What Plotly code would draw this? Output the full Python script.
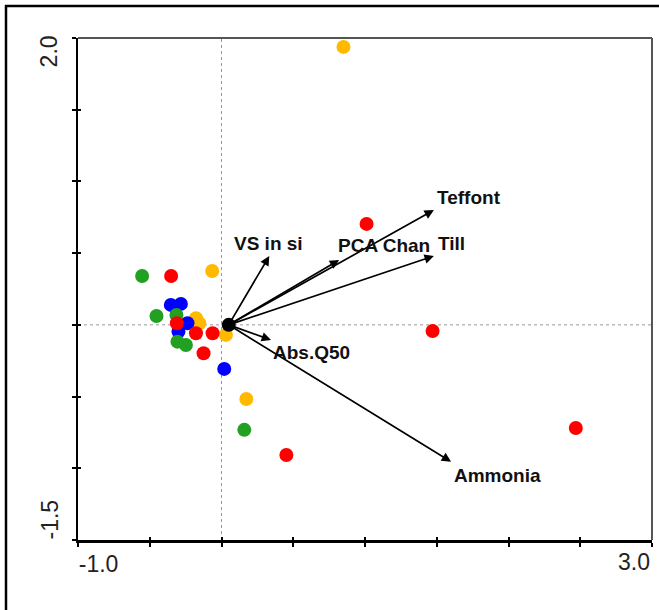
import plotly.graph_objects as go

# ---- sample scores (axis 1, axis 2) by group ----
red_x = [-0.351, 1.011, 1.471, 2.469, 0.452, -0.311, -0.178, -0.062, -0.125]
red_y = [0.341, 0.704, -0.043, -0.719, -0.907, 0.011, -0.059, -0.059, -0.198]

orange_x = [0.850, -0.065, 0.173, -0.178, -0.155, 0.031]
orange_y = [1.938, 0.376, -0.517, 0.046, 0.011, -0.070]

blue_x = [-0.353, -0.283, -0.237, -0.300, 0.019]
blue_y = [0.139, 0.146, 0.011, -0.047, -0.307]

green_x = [-0.553, -0.453, -0.314, -0.307, -0.248, 0.159]
green_y = [0.341, 0.062, 0.069, -0.117, -0.140, -0.732]

# ---- environmental variable arrows ----
var_names = ["Teffont", "Till", "PCA Chan", "VS in si", "Abs.Q50", "Ammonia"]
var_x = [1.48, 1.48, 0.82, 0.333, 0.345, 1.60]
var_y = [0.80, 0.48, 0.452, 0.480, -0.105, -0.954]
origin_x = [0.05]
origin_y = [0.0]

# ---- axis ticks ----
x_ticks = [-1.0, -0.5, 0.0, 0.5, 1.0, 1.5, 2.0, 2.5, 3.0]
y_ticks = [-1.5, -1.0, -0.5, 0.0, 0.5, 1.0, 1.5, 2.0]
x_first_label, x_last_label = "-1.0", "3.0"
y_first_label, y_last_label = "-1.5", "2.0"

# label pixel offsets (styling)
label_shift = {
    "Teffont": (1, 13), "Till": (2, 13), "PCA Chan": (-3, 15),
    "VS in si": (-37, 13), "Abs.Q50": (0, -13), "Ammonia": (1, -14),
}

FONT = "Arial, Liberation Sans, sans-serif"
W, H = 659, 610
ML, MR, MT, MB = 78, 7, 38, 70
PW, PH = W - ML - MR, H - MT - MB

fig = go.Figure()
groups = [
    (orange_x, orange_y, "#FFBA00"),
    (blue_x, blue_y, "#0000FF"),
    (green_x, green_y, "#22A022"),
    (red_x, red_y, "#FF0000"),
]
for gx, gy, col in groups:
    fig.add_trace(go.Scatter(x=gx, y=gy, mode="markers",
                             marker=dict(size=14, color=col, line=dict(width=0)),
                             hoverinfo="skip"))

fig.add_trace(go.Scatter(x=origin_x, y=origin_y, mode="markers", xaxis="x2", yaxis="y2",
                         marker=dict(size=14, color="black"), hoverinfo="skip"))

# arrows and labels
for name, vx, vy in zip(var_names, var_x, var_y):
    fig.add_annotation(x=vx, y=vy, ax=origin_x[0], ay=origin_y[0],
                       xref="x", yref="y", axref="x", ayref="y",
                       showarrow=True, arrowhead=2, arrowsize=1.1, arrowwidth=1.7,
                       arrowcolor="black", standoff=0, startstandoff=0, text="")
    dx, dy = label_shift[name]
    fig.add_annotation(x=vx, y=vy, xref="x", yref="y", text="<b>%s</b>" % name,
                       showarrow=False, xanchor="left", yanchor="middle",
                       xshift=dx, yshift=dy,
                       font=dict(family=FONT, size=19, color="#111"))

def px_to_paper_x(px):
    return (px - ML) / PW

def px_to_paper_y(py):
    return (H - MB - py) / PH

shapes = [
    # dotted zero lines
    dict(type="line", xref="x", yref="paper", x0=0, x1=0, y0=0, y1=1,
         line=dict(color="#9a9a9a", width=1, dash="dot"), layer="below"),
    dict(type="line", xref="paper", yref="y", x0=0, x1=1, y0=0, y1=0,
         line=dict(color="#9a9a9a", width=1, dash="dot"), layer="below"),
    # top & right plot border (grey)
    dict(type="line", xref="paper", yref="paper", x0=0, x1=1, y0=1, y1=1,
         line=dict(color="#555555", width=2)),
    dict(type="line", xref="paper", yref="paper", x0=1, x1=1, y0=0, y1=1,
         line=dict(color="#555555", width=2)),
    # outer frame (top and left)
    dict(type="line", xref="paper", yref="paper",
         x0=px_to_paper_x(5), x1=px_to_paper_x(W + 2), y0=px_to_paper_y(6), y1=px_to_paper_y(6),
         line=dict(color="black", width=2.5)),
    dict(type="line", xref="paper", yref="paper",
         x0=px_to_paper_x(6), x1=px_to_paper_x(6), y0=px_to_paper_y(5), y1=px_to_paper_y(H + 2),
         line=dict(color="black", width=2.5)),
]

tickfont = dict(family=FONT, size=23, color="#222")
fig.update_layout(
    width=W, height=H, margin=dict(l=ML, r=MR, t=MT, b=MB),
    plot_bgcolor="white", paper_bgcolor="white", showlegend=False,
    shapes=shapes,
    xaxis=dict(range=[-1, 3], tickvals=x_ticks,
               ticktext=[""] * (len(x_ticks) - 1) + [x_last_label],
               ticks="outside", ticklen=4, tickwidth=1.5, tickcolor="black",
               showline=True, linecolor="black", linewidth=2.5,
               showgrid=False, zeroline=False, ticklabelposition="outside left",
               tickfont=tickfont),
    xaxis2=dict(overlaying="x", matches="x", anchor="y2", side="bottom", range=[-1, 3],
                tickvals=x_ticks, ticktext=[x_first_label] + [""] * (len(x_ticks) - 1),
                ticks="inside", ticklen=3, tickwidth=1.5, tickcolor="black",
                showline=False, showgrid=False, zeroline=False,
                ticklabelposition="outside right", ticklabelstandoff=8,
                tickfont=tickfont),
    yaxis=dict(range=[-1.5, 2], tickvals=y_ticks,
               ticktext=[""] * (len(y_ticks) - 1) + [y_last_label],
               ticks="outside", ticklen=4, tickwidth=1.5, tickcolor="black",
               showline=True, linecolor="black", linewidth=2,
               showgrid=False, zeroline=False, tickangle=-90,
               ticklabelposition="outside bottom", ticklabelstandoff=10,
               tickfont=tickfont),
    yaxis2=dict(overlaying="y", matches="y", anchor="x2", side="left", range=[-1.5, 2],
                tickvals=y_ticks, ticktext=[y_first_label] + [""] * (len(y_ticks) - 1),
                ticks="inside", ticklen=3, tickwidth=1.5, tickcolor="black",
                showline=False, showgrid=False, zeroline=False, tickangle=-90,
                ticklabelposition="outside top", ticklabelstandoff=14,
                tickfont=tickfont),
)

fig.write_html("out.html")
